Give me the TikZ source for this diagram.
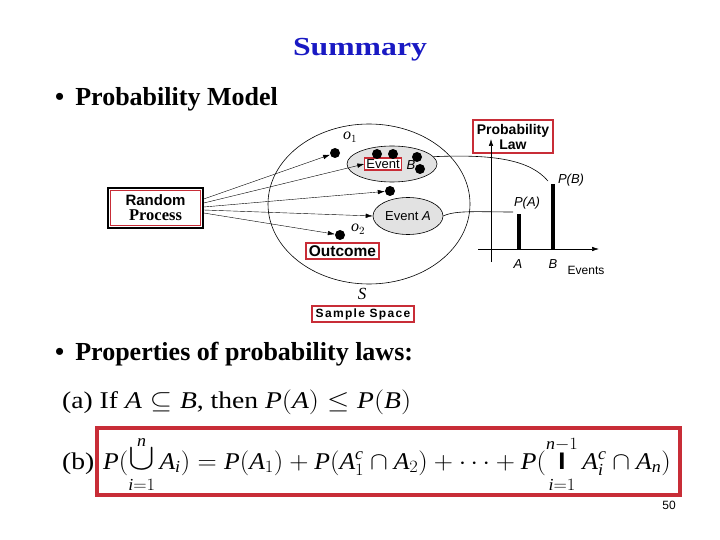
\documentclass[tikz,border=0pt]{standalone}
\usepackage{fontspec}
\setmainfont{Liberation Serif}
\setsansfont{Liberation Sans}
\DeclareSymbolFont{letters}{\encodingdefault}{\rmdefault}{m}{it}
\DeclareSymbolFont{operators}{\encodingdefault}{\rmdefault}{m}{n}
\usetikzlibrary{arrows.meta,shapes.geometric}
\definecolor{titleblue}{RGB}{25,25,195}
\definecolor{framered}{RGB}{200,45,55}
\definecolor{eventgray}{RGB}{226,226,226}

\begin{document}
\begin{tikzpicture}[
  x=1pt, y=-1pt,
  >={Latex[length=7pt,width=4.5pt]},
  redbox/.style={draw=framered, line width=1.2pt, fill=white, inner sep=1pt,
    font=\sffamily\bfseries},
  evt/.style={ellipse, draw, fill=eventgray, inner sep=0pt, line width=0.6pt},
  outcomedot/.style={circle, fill=black, inner sep=0pt, minimum size=10pt},
  lbl/.style={font=\sffamily\fontsize{12}{14}\selectfont, inner sep=0pt},
  bullet/.style={anchor=base west, inner sep=0pt, font=\bfseries\fontsize{26}{30}\selectfont},
  formula/.style={inner sep=0pt, font=\fontsize{24}{28}\selectfont},
]
  \useasboundingbox (0,0) rectangle (720,540);

  % slide text
  \node[anchor=base, inner sep=0pt, text=titleblue, font=\bfseries\fontsize{26}{30}\selectfont]
    (title) at (360,56) {\scalebox{1.22}[1]{Summary}};
  \node[bullet] (model) at (55,106) {\textbullet\hspace{11pt}Probability Model};
  \node[bullet] (props) at (55,360) {\textbullet\hspace{11pt}Properties of probability laws:};

  % sample space
  \node[ellipse, draw, line width=0.6pt, minimum width=202pt, minimum height=160pt,
    inner sep=0pt] (space) at (369,204) {};
  \node[evt, minimum width=90pt, minimum height=36pt] (eventB) at (392,164) {};
  \node[evt, minimum width=70pt, minimum height=37pt] (eventA) at (408,216) {};
  \node[redbox, font=\sffamily\fontsize{13}{14}\selectfont, inner sep=1.5pt] (eventword) at (383,164) {Event};
  \node[lbl, font=\sffamily\itshape\fontsize{13}{14}\selectfont] (labelB) at (411,165) {B};
  \node[lbl, font=\sffamily\fontsize{13}{14}\selectfont] (labelA) at (408,216) {Event \textit{A}};

  \node[outcomedot] (dotO1) at (335,153) {};
  \node[outcomedot] (dotB1) at (377,154) {};
  \node[outcomedot] (dotB2) at (393,154) {};
  \node[outcomedot] (dotB3) at (417,157) {};
  \node[outcomedot] (dotB4) at (420,169) {};
  \node[outcomedot] (dotMid) at (390,191) {};
  \node[outcomedot] (dotO2) at (340,235) {};
  \node[font=\fontsize{16}{16}\selectfont] (o1) at (350,137) {$o_1$};
  \node[font=\fontsize{16}{16}\selectfont] (o2) at (358,229) {$o_2$};

  \node[redbox, font=\sffamily\bfseries\fontsize{15.5}{16}\selectfont, minimum width=73pt,
    minimum height=16pt, inner sep=0pt] (outcome) at (342.5,251) {Outcome};
  \node[font=\itshape\fontsize{17}{18}\selectfont] (S) at (362,294) {S};
  \node[redbox, font=\sffamily\bfseries\fontsize{12}{13}\selectfont\addfontfeature{LetterSpace=11},
    minimum width=102pt, minimum height=16pt, inner sep=0pt] (sample) at (363,314) {Sample Space};

  % random process
  \node[draw, line width=1.5pt, minimum width=95pt, minimum height=40pt, align=center,
    inner sep=0pt, font=\fontsize{15}{15}\selectfont] (randproc) at (155.5,208)
    {{\sffamily\bfseries Random}\\
     {\bfseries\fontsize{16.5}{15}\selectfont Process}};
  \draw[framered, line width=1pt] ([xshift=3pt,yshift=-3pt]randproc.north west)
    rectangle ([xshift=-3pt,yshift=3pt]randproc.south east);

  \draw[->] ([yshift=9pt]randproc.east) -- (dotO1);
  \draw[->] ([yshift=5pt]randproc.east) -- (eventword.west);
  \draw[->] ([yshift=1pt]randproc.east) -- (dotMid);
  \draw[->] ([yshift=-2pt]randproc.east) -- (eventA.west);
  \draw[->] ([yshift=-5pt]randproc.east) -- (dotO2);

  % probability law
  \node[redbox, font=\sffamily\bfseries\fontsize{14}{15}\selectfont, align=center,
    minimum width=80pt, minimum height=33pt, inner sep=0pt] (law) at (513,136.5)
    {Probability\\Law};
  \coordinate (yaxisB) at (491,262);
  \coordinate (yaxisT) at (491,139);
  \coordinate (xaxisL) at (478,249);
  \coordinate (xaxisR) at (599,249);
  \draw[->, line width=0.6pt] (yaxisB) -- (yaxisT);
  \draw[->, line width=0.6pt] (xaxisL) -- (xaxisR);

  \coordinate (barA) at (519,249);
  \coordinate (topA) at (519,214);
  \coordinate (barB) at (553,249);
  \coordinate (topB) at (553,184);
  \draw[line width=4pt] (barA) -- (topA);
  \draw[line width=4pt] (barB) -- (topB);

  \coordinate (endA) at (513,212);
  \coordinate (endB) at (548,181);
  \draw[line width=0.6pt] (eventA.east) .. controls (455,210) and (480,212) .. (endA);
  \draw[line width=0.6pt] (eventB.10) .. controls (495,154) and (530,160) .. (endB);

  \node[lbl, font=\sffamily\itshape\fontsize{13}{14}\selectfont] (pA) at (527,203) {P(A)};
  \node[lbl, font=\sffamily\itshape\fontsize{13}{14}\selectfont] (pB) at (571,180) {P(B)};
  \node[lbl, font=\sffamily\itshape\fontsize{13}{14}\selectfont] (tickA) at (518,264) {A};
  \node[lbl, font=\sffamily\itshape\fontsize{13}{14}\selectfont] (tickB) at (553,264) {B};
  \node[lbl, font=\sffamily\fontsize{12}{14}\selectfont] (events) at (586,270) {Events};

  % properties
  \node[formula, anchor=base west] (propA) at (62,408)
    {\scalebox{1.15}[1]{(a) If $A\subseteq B$, then $P(A)\le P(B)$}};
  \node[formula, anchor=base west] (propB) at (62,469)
    {\scalebox{1.15}[1]{(b)}};
  \node[draw=framered, line width=3.5pt, minimum width=583pt, minimum height=67pt,
    inner sep=0pt] (unionbox) at (388.5,461.5) {};
  \node[formula, anchor=base] (union) at (387,469)
    {\scalebox{1.07}[1]{$P(\mathop{\scalebox{1.5}{$\cup$}}\limits_{\rule{0pt}{20pt}i=1}^{n}A_i)
      =P(A_1)+P(A_1^c\cap A_2)+\cdots
      +P(\mathop{\raisebox{0pt}[17pt]{\sffamily\bfseries\fontsize{24}{24}\selectfont I}}\limits_{\rule{0pt}{20pt}i=1}^{n-1}A_i^c\cap A_n)$}};

  \node[lbl, font=\sffamily\fontsize{12}{14}\selectfont] (page) at (669,505) {50};
\end{tikzpicture}
\end{document}
